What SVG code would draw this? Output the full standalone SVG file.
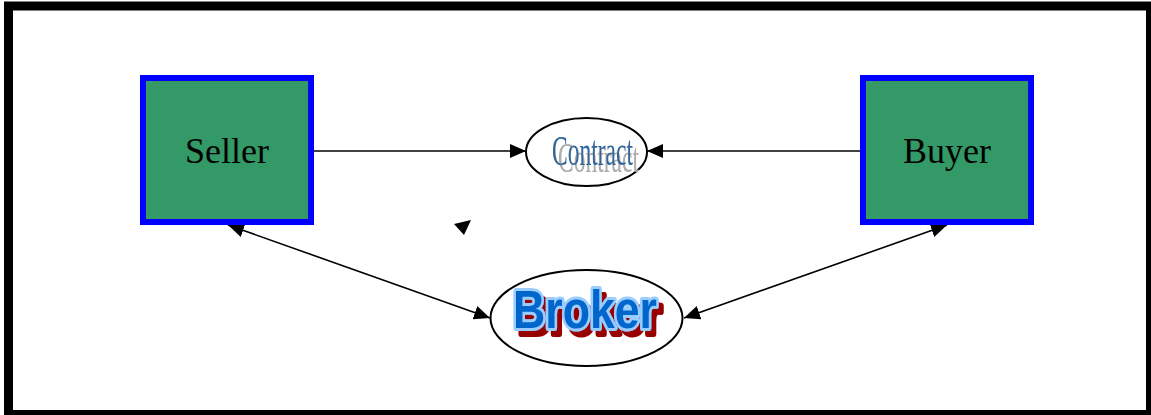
<svg xmlns="http://www.w3.org/2000/svg" width="1151" height="415" viewBox="0 0 1151 415">
<style>
.box{fill:#339966;stroke:#0000ff;stroke-width:6}
.lbl{font-family:"Liberation Serif","Times New Roman",serif;font-size:36px;fill:#000;text-anchor:middle}
.ell{fill:#fff;stroke:#000;stroke-width:2}
.con{stroke:#000;stroke-width:1.6;fill:none}
</style>
<defs>
<marker id="ah" markerUnits="userSpaceOnUse" markerWidth="16" markerHeight="14" refX="16" refY="7" orient="auto-start-reverse" viewBox="0 0 16 14">
<path d="M0,0 L16,7 L0,14 z" fill="#000"/>
</marker>
<filter id="gs" x="-20%" y="-50%" width="150%" height="220%">
<feOffset in="SourceAlpha" dx="6" dy="7" result="o"/>
<feFlood flood-color="#acacac"/>
<feComposite in2="o" operator="in" result="s"/>
<feMerge><feMergeNode in="s"/><feMergeNode in="SourceGraphic"/></feMerge>
</filter>
<filter id="rs" x="-20%" y="-40%" width="150%" height="200%">
<feOffset in="SourceAlpha" dx="5" dy="6" result="o"/>
<feFlood flood-color="#990000"/>
<feComposite in2="o" operator="in" result="s"/>
<feMerge><feMergeNode in="s"/><feMergeNode in="SourceGraphic"/></feMerge>
</filter>
</defs>
<rect x="0" y="0" width="1151" height="415" fill="#fff"/>
<rect x="8.5" y="6" width="1142" height="408.5" fill="none" stroke="#000" stroke-width="9"/>
<g id="connectors">
<line class="con" x1="314" y1="151" x2="526" y2="151" marker-end="url(#ah)"/>
<line class="con" x1="860" y1="151" x2="647" y2="151" marker-end="url(#ah)"/>
<line class="con" x1="228" y1="225" x2="490" y2="318" marker-start="url(#ah)" marker-end="url(#ah)"/>
<line class="con" x1="947" y1="225" x2="684" y2="318" marker-start="url(#ah)" marker-end="url(#ah)"/>
<polygon points="454,224 471,220 464,235" fill="#000"/>
</g>
<g id="seller">
<rect class="box" x="143" y="78" width="168" height="144"/>
<text class="lbl" x="227" y="163">Seller</text>
</g>
<g id="buyer">
<rect class="box" x="863" y="78" width="168" height="144"/>
<text class="lbl" x="947" y="163">Buyer</text>
</g>
<g id="contract">
<ellipse class="ell" cx="586.5" cy="152" rx="60.5" ry="34"/>
<text x="552" y="165" font-family="Liberation Serif, serif" font-size="42" fill="#336699" textLength="81" lengthAdjust="spacingAndGlyphs" filter="url(#gs)">Contract</text>
</g>
<g id="broker">
<ellipse class="ell" cx="586.5" cy="318" rx="96" ry="48"/>
<text x="513" y="328" font-family="Liberation Sans, sans-serif" font-weight="bold" font-size="53" fill="#0066cc" stroke="#99ccff" stroke-width="6" stroke-linejoin="round" paint-order="stroke" textLength="144" lengthAdjust="spacingAndGlyphs" filter="url(#rs)">Broker</text>
</g>
</svg>
